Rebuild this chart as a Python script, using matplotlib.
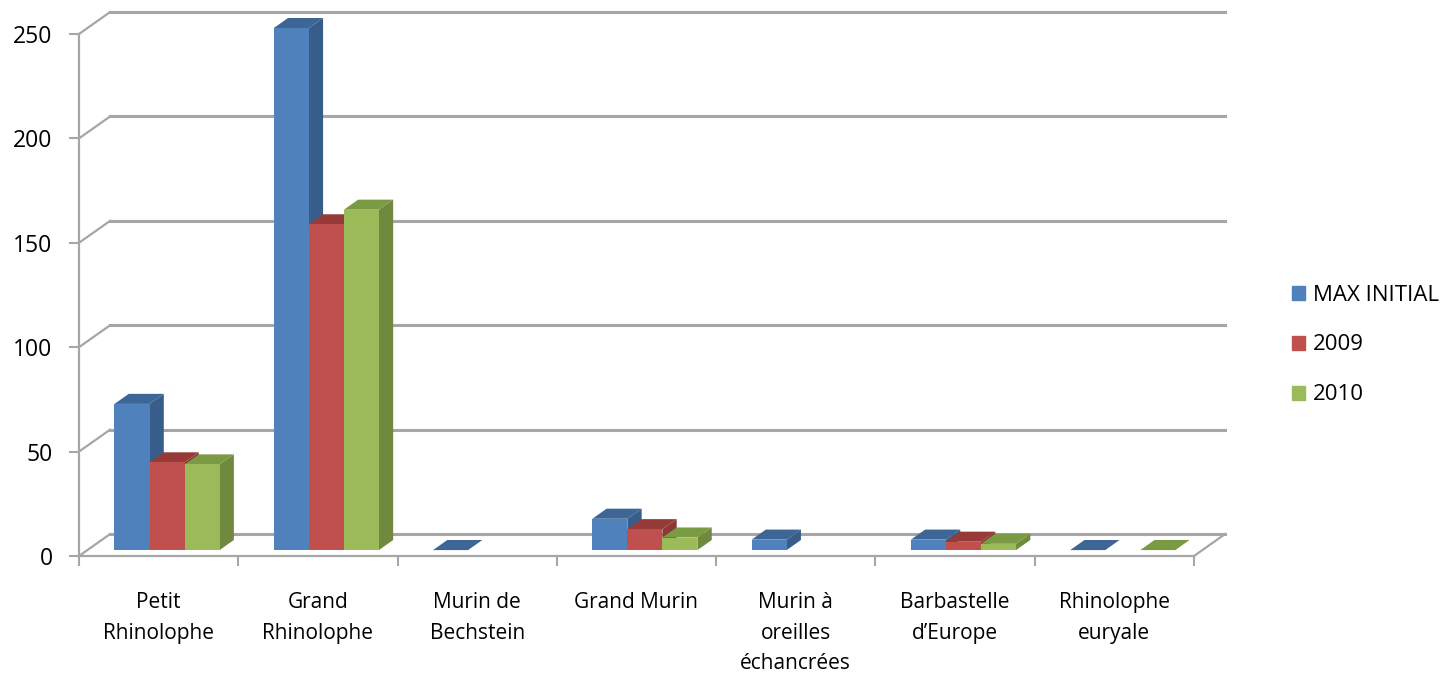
import numpy as np
import matplotlib
matplotlib.use("Agg")
from matplotlib import pyplot as plt
from matplotlib.patches import Polygon, Patch

plt.rcParams['font.family'] = ['Open Sans', 'DejaVu Sans']

categories = ["Petit\nRhinolophe", "Grand\nRhinolophe", "Murin de\nBechstein", "Grand Murin",
              "Murin à\noreilles\néchancrées", "Barbastelle\nd\u2019Europe", "Rhinolophe\neuryale"]
series_names = ["MAX INITIAL", "2009", "2010"]
max_initial = [70, 250, 0, 15, 5, 5, 0]
y2009 = [42, 156, np.nan, 10, np.nan, 4, np.nan]
y2010 = [41, 163, np.nan, 6, np.nan, 3, 0]
yticks = [0, 50, 100, 150, 200, 250]

front_cols = ['#4f81bd', '#c0504d', '#9bbb59']
side_cols = ['#385d8a', '#8c3836', '#71893f']
top_cols = ['#3d6696', '#963b38', '#7a9a43']
grid_col = '#a6a6a6'

# fake 3D: depth offset of the back wall in data units
DX, DY = 0.195, 10.5
zf, zb = 0.27, 0.73   # bar front / back depth
bw = 0.22

fig = plt.figure(figsize=(14.49, 6.76), dpi=100)
ax = fig.add_axes([79/1449, 120/676, 1115/1449, 522/676])
ax.set_xlim(0, 7)
ax.set_ylim(0, 250)

# back wall gridlines and left wall diagonals
for v in yticks:
    ax.plot([DX, 7 + DX], [v + DY, v + DY], color=grid_col, lw=2.2, clip_on=False, zorder=1)
    ax.plot([0, DX], [v, v + DY], color=grid_col, lw=1.6, clip_on=False, zorder=1)
# floor right edge
ax.plot([7, 7 + DX], [0, DY], color=grid_col, lw=1.6, clip_on=False, zorder=1)

data = [max_initial, y2009, y2010]
z = 2
for i in range(len(categories)):
    for s, vals in enumerate(data):
        v = vals[i]
        if np.isnan(v):
            continue
        xl = i + 0.17 + s * bw + zf * DX
        xr = xl + bw
        b0 = zf * DY
        ddx, ddy = (zb - zf) * DX, (zb - zf) * DY
        side = Polygon([(xr, b0), (xr, b0 + v), (xr + ddx, b0 + v + ddy), (xr + ddx, b0 + ddy)],
                       closed=True, fc=side_cols[s], ec='none', zorder=z, clip_on=False)
        top = Polygon([(xl, b0 + v), (xr, b0 + v), (xr + ddx, b0 + v + ddy), (xl + ddx, b0 + v + ddy)],
                      closed=True, fc=top_cols[s], ec='none', zorder=z, clip_on=False)
        ax.add_patch(side)
        ax.add_patch(top)
        ax.bar(xl, v, bottom=b0, width=bw, align='edge', color=front_cols[s], zorder=z + 0.5,
               clip_on=False)
        z += 1

for sp in ['top', 'right']:
    ax.spines[sp].set_visible(False)
for sp in ['left', 'bottom']:
    ax.spines[sp].set_color(grid_col)
    ax.spines[sp].set_linewidth(1.6)

ax.set_yticks(yticks)
ax.set_yticklabels([str(t) for t in yticks])
ax.tick_params(axis='y', length=7, width=1.5, color=grid_col, pad=12, labelsize=16.5)
ax.set_xticks(np.arange(7) + 0.5)
ax.set_xticklabels(categories, linespacing=1.6)
ax.tick_params(axis='x', which='major', length=0, pad=26, labelsize=15)
ax.set_xticks(np.arange(8), minor=True)
ax.tick_params(axis='x', which='minor', length=7, width=1.5, color=grid_col)

handles = [Patch(color=c) for c in front_cols]
fig.legend(handles, series_names, loc='center left', bbox_to_anchor=(1272/1449, 1 - 345/676),
           frameon=False, fontsize=16, handlelength=0.6, handleheight=0.6,
           handletextpad=0.35, labelspacing=1.3)

plt.savefig('out.png', dpi=100)
